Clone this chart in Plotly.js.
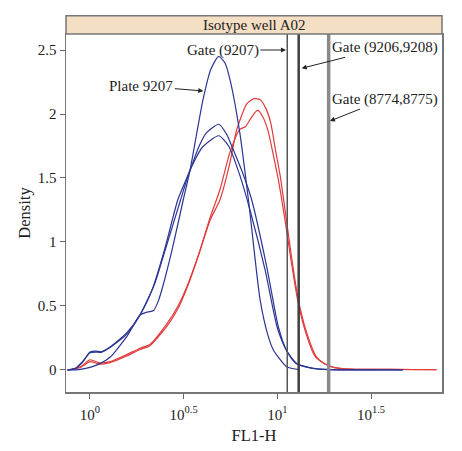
<!DOCTYPE html>
<html>
<head>
<meta charset="utf-8">
<script src="https://cdn.plot.ly/plotly-3.0.1.min.js"></script>
<style>html,body{margin:0;padding:0;background:#fff;}#chart{width:462px;height:451px;}</style>
</head>
<body>
<div id="chart"></div>
<script>
// x values are log10(FL1-H)
var blueT_x = [-0.12,-0.06,0.0,0.053,0.107,0.196,0.267,0.30,0.34,0.365,0.39,0.44,0.498,0.534,0.603,0.645,0.687,0.72,0.747,0.80,0.849,0.908,0.95,0.979,1.05,1.12];
var blueT_y = [0,0.003,0.02,0.05,0.10,0.26,0.43,0.45,0.465,0.54,0.66,0.95,1.33,1.56,2.11,2.35,2.45,2.40,2.27,1.85,1.29,0.55,0.27,0.156,0.026,0.003];

var blueA_x = [-0.12,-0.08,-0.04,0.0,0.03,0.06,0.107,0.196,0.267,0.33,0.40,0.469,0.534,0.58,0.62,0.687,0.73,0.765,0.82,0.863,0.943,1.005,1.05,1.104,1.19,1.28,1.45,1.67];
var blueA_y = [0,0.01,0.06,0.14,0.148,0.142,0.18,0.29,0.43,0.62,0.95,1.33,1.56,1.74,1.85,1.92,1.84,1.72,1.52,1.33,0.81,0.34,0.15,0.05,0.013,0.003,0.001,0];

var blueB_x = [-0.12,-0.08,-0.04,0.0,0.03,0.06,0.107,0.196,0.267,0.347,0.40,0.484,0.534,0.60,0.687,0.74,0.80,0.854,0.935,1.0,1.05,1.10,1.19,1.28,1.45,1.67];
var blueB_y = [0,0.012,0.065,0.135,0.14,0.138,0.175,0.28,0.43,0.68,0.93,1.33,1.56,1.74,1.83,1.75,1.52,1.25,0.78,0.33,0.15,0.05,0.013,0.003,0.001,0];

var red1_x = [-0.12,-0.05,0.0,0.053,0.107,0.196,0.267,0.32,0.41,0.47,0.52,0.58,0.641,0.694,0.747,0.783,0.837,0.875,0.91,0.94,0.965,0.99,1.015,1.046,1.08,1.112,1.157,1.21,1.25,1.30,1.388,1.6,1.85];
var red1_y = [0,0.025,0.08,0.055,0.065,0.12,0.17,0.20,0.36,0.50,0.66,0.90,1.17,1.33,1.62,1.875,2.08,2.12,2.11,2.04,1.93,1.72,1.52,1.20,0.84,0.55,0.29,0.10,0.05,0.02,0.006,0.004,0.002];

var red2_x = [-0.12,-0.05,0.0,0.053,0.107,0.196,0.267,0.32,0.41,0.47,0.52,0.58,0.641,0.694,0.747,0.80,0.83,0.86,0.895,0.925,0.952,0.98,1.01,1.04,1.075,1.108,1.15,1.20,1.25,1.30,1.388,1.6,1.85];
var red2_y = [0,0.02,0.065,0.045,0.058,0.11,0.16,0.19,0.34,0.48,0.65,0.90,1.19,1.41,1.70,1.88,1.90,1.97,2.03,1.97,1.86,1.67,1.45,1.18,0.84,0.55,0.30,0.11,0.05,0.02,0.006,0.004,0.002];

var gateX = [1.053, 1.114, 1.274];
var gateColors = ['#555555', '#3f3f3f', '#8a8a8a'];
var gateWidths = [1.5, 2.5, 3.5];

var xTickVals = [0, 0.5, 1, 1.5];
var xTickText = ['10<sup>0</sup>', '10<sup>0.5</sup>', '10<sup>1</sup>', '10<sup>1.5</sup>'];
var yTickVals = [0, 0.5, 1, 1.5, 2, 2.5];
var yTickText = ['0', '0.5', '1', '1.5', '2', '2.5'];

var blue = '#2b3593', red = '#e03a3c';
var F = 'Liberation Serif, Times New Roman, serif';

var traces = [];
function curve(x, y, c) {
  traces.push({x: x, y: y, type: 'scatter', mode: 'lines', line: {color: c, width: 1.2, shape: 'spline', smoothing: 0.6}, hoverinfo: 'skip', showlegend: false});
}
curve(red1_x, red1_y, red);
curve(red2_x, red2_y, red);
curve(blueA_x, blueA_y, blue);
curve(blueB_x, blueB_y, blue);
curve(blueT_x, blueT_y, blue);
gateX.forEach(function (g, i) {
  traces.push({x: [g, g], y: [-1, 4], type: 'scatter', mode: 'lines', line: {color: gateColors[i], width: gateWidths[i]}, hoverinfo: 'skip', showlegend: false});
});

var ann = [
  {x: 0.5, y: 1.0255, xref: 'paper', yref: 'paper', text: 'Isotype well A02', showarrow: false, font: {family: F, size: 15, color: '#222'}, xanchor: 'center', yanchor: 'middle'},
  {x: 0.605, y: 2.18, xref: 'x', yref: 'y', text: 'Plate 9207', ax: -62, ay: -5},
  {x: 1.046, y: 2.50, xref: 'x', yref: 'y', text: 'Gate (9207)', ax: -63, ay: 0},
  {x: 1.130, y: 2.357, xref: 'x', yref: 'y', text: 'Gate (9206,9208)', ax: 83, ay: -21},
  {x: 1.281, y: 1.945, xref: 'x', yref: 'y', text: 'Gate (8774,8775)', ax: 55, ay: -22}
];
for (var i = 1; i < ann.length; i++) {
  Object.assign(ann[i], {showarrow: true, arrowhead: 2, arrowsize: 1, arrowwidth: 1, arrowcolor: '#222', standoff: 0, font: {family: F, size: 15, color: '#222'}});
}

var layout = {
  width: 462, height: 451,
  margin: {l: 66, r: 20, t: 34, b: 59},
  paper_bgcolor: '#fff', plot_bgcolor: '#fff',
  font: {family: F, size: 15, color: '#222'},
  xaxis: {range: [-0.128, 1.879], tickmode: 'array', tickvals: xTickVals, ticktext: xTickText,
    ticks: 'outside', ticklen: 5, tickcolor: '#666', showgrid: false, zeroline: false,
    showline: true, mirror: true, linecolor: '#777', linewidth: 1.5, ticklabelstandoff: 3,
    tickfont: {family: F, size: 15, color: '#222'},
    title: {text: 'FL1-H', font: {family: F, size: 16.5, color: '#222'}, standoff: 8}},
  yaxis: {range: [-0.172, 2.625], tickmode: 'array', tickvals: yTickVals, ticktext: yTickText,
    ticks: 'outside', ticklen: 5, tickcolor: '#666', showgrid: false, zeroline: false,
    showline: true, mirror: true, linecolor: '#777', linewidth: 1.5,
    tickfont: {family: F, size: 15, color: '#222'},
    title: {text: 'Density', font: {family: F, size: 16.5, color: '#222'}, standoff: 3}},
  shapes: [
    {type: 'rect', xref: 'paper', yref: 'paper', x0: 0, x1: 1, y0: 1, y1: 1.051, fillcolor: '#f5dfc4', line: {color: '#777', width: 1.5}, layer: 'above'}
  ],
  annotations: ann
};

Plotly.newPlot('chart', traces, layout, {displayModeBar: false, staticPlot: true});
</script>
</body>
</html>
